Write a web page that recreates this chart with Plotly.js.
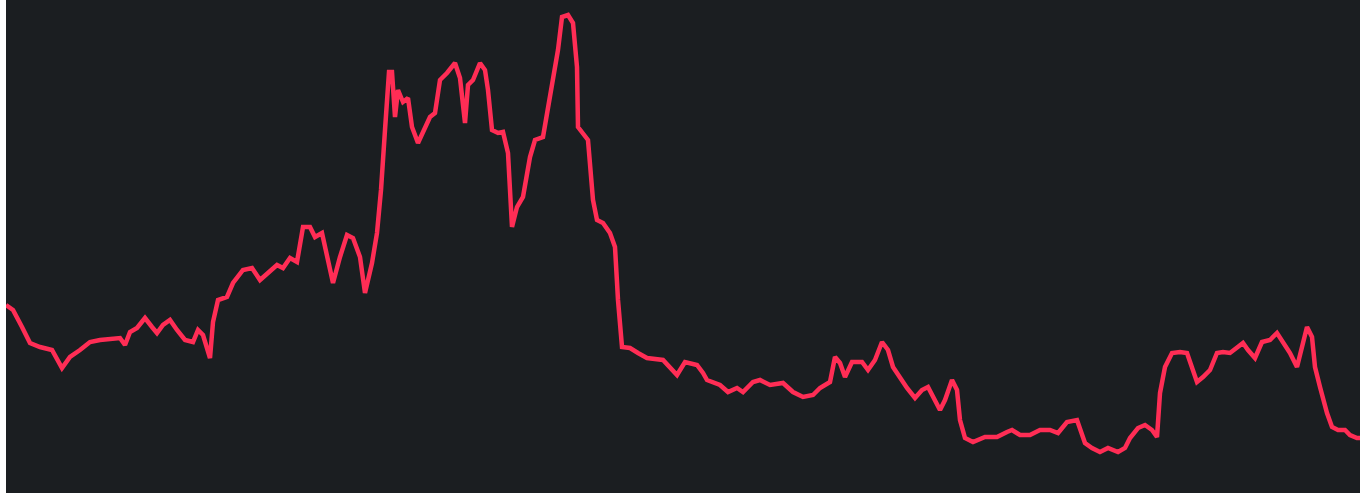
<!DOCTYPE html>
<html>
<head>
<meta charset="utf-8">
<script src="https://cdn.plot.ly/plotly-3.0.1.min.js"></script>
<style>
html,body{margin:0;padding:0;background:#ffffff;overflow:hidden;}
#chart{position:absolute;left:6px;top:0;width:1354px;height:493px;}
</style>
</head>
<body>
<div id="chart"></div>
<script>
const days = [6,13,22,30,40,52,62,70,80,90,100,110,120,125,130,137,145,152,157,163,170,177,185,193,198,203,210,213,218,227,233,243,252,260,270,277,283,290,297,303,310,315,322,327,333,340,347,353,360,365,372,377,381,385,389,392,395,398,403,408,412,418,425,430,435,440,447,455,460,465,468,473,480,485,488,492,498,503,508,510,512,517,523,530,535,543,548,553,558,562,568,573,577,578,583,588,593,597,603,610,615,618,622,630,638,647,663,677,685,697,703,707,720,728,737,743,753,760,770,783,793,803,813,820,830,835,840,845,852,862,868,875,882,888,893,900,907,915,922,928,933,940,945,952,957,960,965,973,985,997,1007,1012,1020,1030,1040,1050,1058,1067,1077,1082,1085,1092,1100,1108,1118,1125,1130,1138,1145,1152,1157,1160,1165,1172,1180,1187,1192,1197,1203,1210,1217,1223,1230,1238,1243,1248,1255,1262,1270,1277,1283,1290,1297,1302,1307,1312,1315,1320,1327,1332,1338,1345,1350,1357,1362];
const values = [188,183,166,150,146,143,125,136,143,151,153,154,155,148,161,165,175,166,160,168,173,163,153,151,163,158,135,171,193,196,210,223,225,213,221,228,225,235,231,266,266,256,260,236,210,236,258,255,236,200,230,260,303,363,421,421,376,403,391,395,366,350,366,376,380,413,420,430,415,370,408,413,430,423,403,363,360,361,340,303,266,286,296,336,353,356,383,416,443,476,478,470,426,366,360,353,293,273,270,260,246,193,146,145,140,135,133,118,131,128,120,113,108,101,105,101,111,113,108,110,101,96,98,105,111,136,130,116,131,131,123,133,151,143,126,115,105,95,103,106,96,83,93,113,103,73,55,51,56,56,61,63,58,58,63,63,60,71,73,60,50,45,41,45,41,45,55,65,68,63,56,100,126,140,141,140,126,111,116,123,140,141,140,146,150,143,135,151,153,160,151,140,126,148,166,156,126,106,80,66,63,63,58,55,55];

const trace = {
  x: days,
  y: values,
  type: 'scatter',
  mode: 'lines',
  line: {color: '#ff2d55', width: 4.5},
  hoverinfo: 'skip'
};

const layout = {
  width: 1354,
  height: 493,
  margin: {l: 0, r: 0, t: 0, b: 0, pad: 0},
  paper_bgcolor: '#1b1e21',
  plot_bgcolor: '#1b1e21',
  showlegend: false,
  xaxis: {range: [6, 1360], visible: false, showgrid: false, zeroline: false, fixedrange: true},
  yaxis: {range: [0, 493], visible: false, showgrid: false, zeroline: false, fixedrange: true}
};

Plotly.newPlot('chart', [trace], layout, {displayModeBar: false, staticPlot: true});
</script>
</body>
</html>
